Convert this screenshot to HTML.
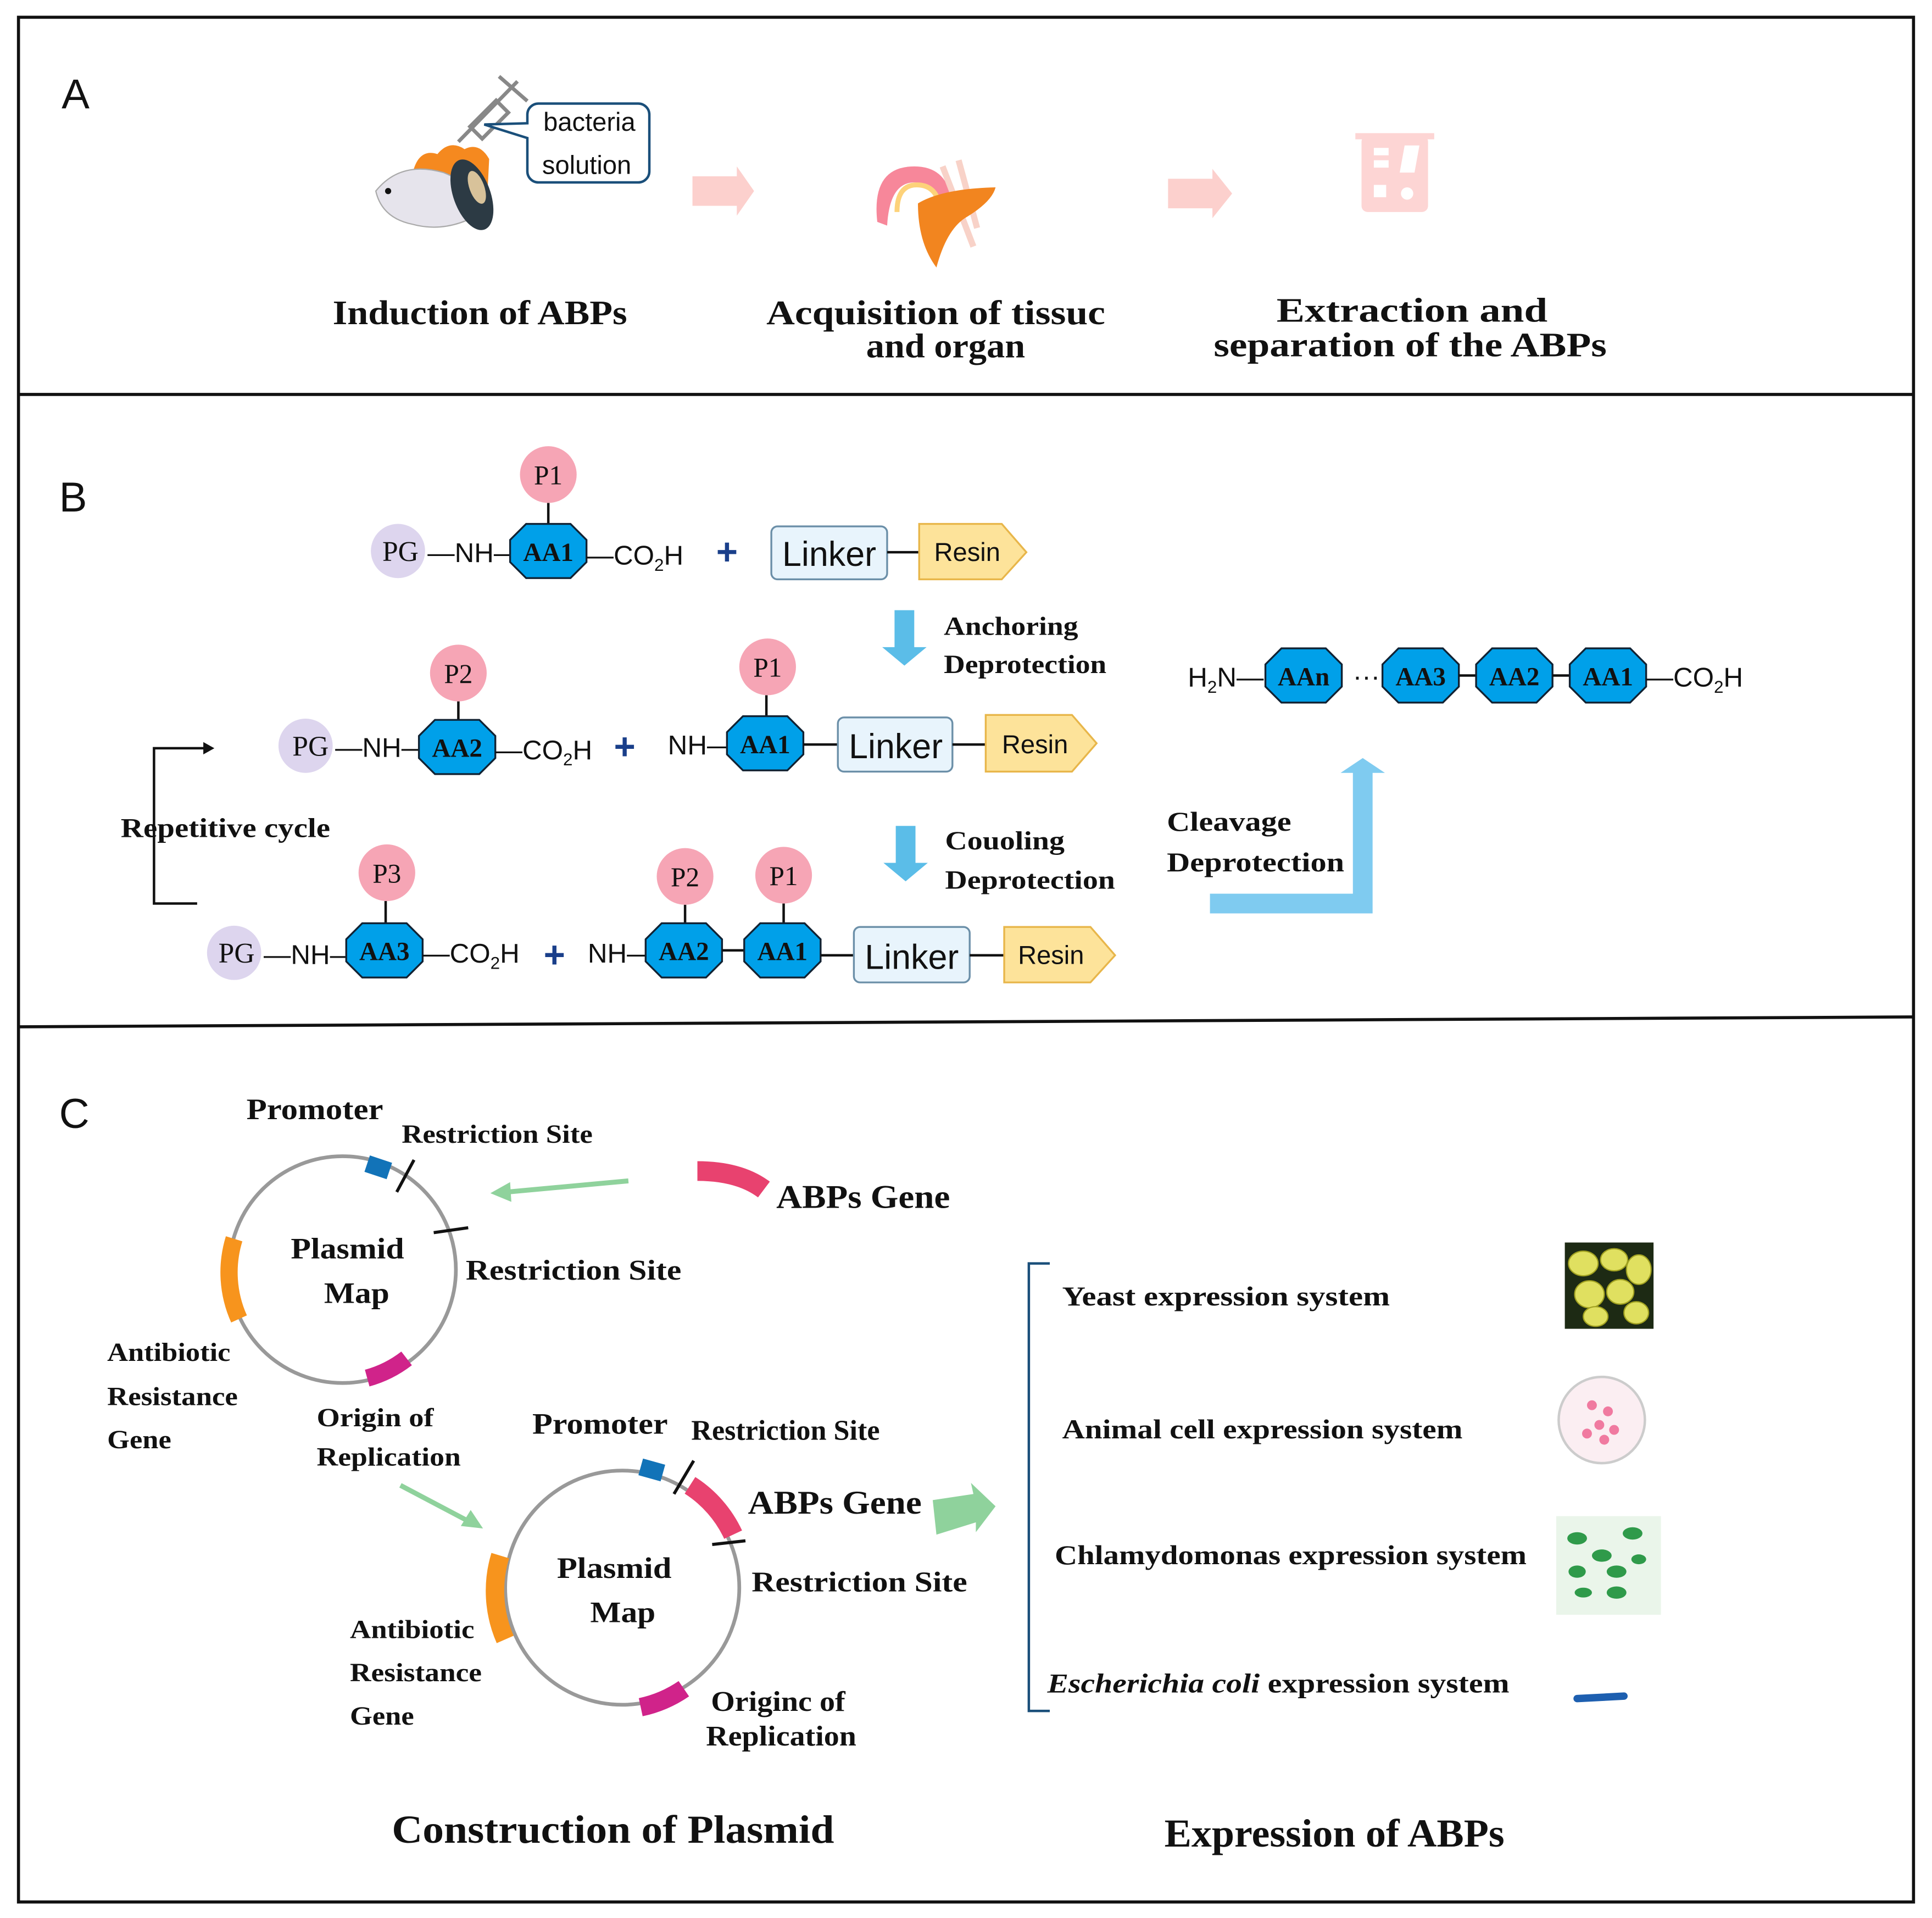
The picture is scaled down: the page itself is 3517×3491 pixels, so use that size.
<!DOCTYPE html>
<html><head><meta charset="utf-8"><style>
html,body{margin:0;padding:0;background:#fff}
svg{display:block}
.s{font-family:"Liberation Serif",serif;font-weight:bold;fill:#111}
.a{font-family:"Liberation Sans",sans-serif;fill:#111}
</style></head><body>
<svg width="3517" height="3491" viewBox="0 0 1568 1556" preserveAspectRatio="none" xmlns="http://www.w3.org/2000/svg">
<defs>
<g id="oct"><polygon points="-18,-22 18,-22 31,-9 31,9 18,22 -18,22 -31,9 -31,-9" fill="#00a0e9" stroke="#123" stroke-width="1.5"/></g>
</defs>
<rect x="15" y="14" width="1538" height="1529" fill="none" stroke="#111" stroke-width="2.5"/>
<line x1="15" y1="320" x2="1553" y2="320" stroke="#111" stroke-width="2.5"/>
<line x1="15" y1="833" x2="1553" y2="825" stroke="#111" stroke-width="2.5"/>

<!-- Panel A -->
<text x="50" y="88" class="a" font-size="34">A</text>
<g stroke="#888" stroke-width="3" fill="none">
<line x1="372" y1="115" x2="420" y2="66"/>
<rect x="390" y="82" width="14" height="30" transform="rotate(45 397 97)"/>
<line x1="405" y1="62" x2="428" y2="82"/>
</g>
<path d="M440,84 h78 a9,9 0 0 1 9,9 v46 a9,9 0 0 1 -9,9 h-81 a9,9 0 0 1 -9,-9 v-27 l-35,-11 l35,-1 v-7 a9,9 0 0 1 9,-9z" fill="#fff" stroke="#1a4f7a" stroke-width="2"/>
<text x="441" y="106" class="a" font-size="21">bacteria</text>
<text x="440" y="141" class="a" font-size="21">solution</text>
<path d="M335,140 q5,-20 20,-15 q10,-12 22,-4 q12,-6 20,8 l-2,40 l-60,-10z" fill="#f5891f"/>
<path d="M305,155 q20,-25 55,-15 q25,10 35,30 q-30,20 -60,12 q-25,-5 -30,-27z" fill="#e6e4ec" stroke="#aaa"/>
<circle cx="315" cy="155" r="2.5" fill="#111"/>
<ellipse cx="383" cy="158" rx="15" ry="30" fill="#2c3a44" transform="rotate(-20 383 158)"/>
<ellipse cx="387" cy="152" rx="6" ry="14" fill="#d8c29a" transform="rotate(-20 387 152)"/>
<polygon points="562,143 598,143 598,135 612,155 598,175 598,167 562,167" fill="#fcd0cd"/>
<polygon points="948,145 984,145 984,137 1000,157 984,177 984,169 948,169" fill="#fcd0cd"/>
<path d="M712,180 q-5,-45 30,-45 q25,0 30,25 l-12,8 q-3,-20 -18,-20 q-20,0 -22,35z" fill="#f7879a"/>
<path d="M728,172 q0,-22 16,-22 q14,0 18,14" fill="none" stroke="#fdd27a" stroke-width="4"/>
<path d="M765,135 l25,65 M778,130 l15,55" stroke="#f8d2c8" stroke-width="5"/>
<path d="M745,165 q20,-12 63,-13 q-3,12 -25,25 q-15,10 -23,40 q-15,-20 -15,-52z" fill="#f2851f"/>
<rect x="1105" y="110" width="54" height="62" rx="5" fill="#fdd5d4"/>
<rect x="1100" y="108" width="64" height="5" fill="#fdd5d4"/>
<rect x="1115" y="120" width="12" height="6" fill="#fff"/><rect x="1115" y="130" width="12" height="6" fill="#fff"/>
<polygon points="1140,118 1152,118 1148,140 1136,140" fill="#fff"/>
<rect x="1115" y="150" width="10" height="10" fill="#fff"/><circle cx="1142" cy="157" r="5" fill="#fff"/>
<text x="270" y="263" class="s" font-size="28" textLength="239" lengthAdjust="spacingAndGlyphs">Induction of ABPs</text>
<text x="622" y="263" class="s" font-size="28" textLength="275" lengthAdjust="spacingAndGlyphs">Acquisition of tissuc</text>
<text x="703" y="290" class="s" font-size="28" textLength="129" lengthAdjust="spacingAndGlyphs">and organ</text>
<text x="1036" y="261" class="s" font-size="28" textLength="220" lengthAdjust="spacingAndGlyphs">Extraction and</text>
<text x="985" y="289" class="s" font-size="28" textLength="319" lengthAdjust="spacingAndGlyphs">separation of the ABPs</text>

<!-- Panel B -->
<text x="48" y="415" class="a" font-size="34">B</text>
<g>
<circle cx="323" cy="447" r="22" fill="#ddd5ee"/><text x="325" y="455" text-anchor="middle" style="font-family:'Liberation Serif',serif;font-size:23px;fill:#111">PG</text>
<text x="347" y="456" class="a" font-size="22">—NH—</text>
<line x1="445" y1="408" x2="445" y2="425" stroke="#111" stroke-width="2"/>
<circle cx="445" cy="385" r="23" fill="#f6a5b5"/><text x="445" y="393" style="font-family:'Liberation Serif',serif;font-size:22px;fill:#111" text-anchor="middle">P1</text>
<use href="#oct" x="445" y="447"/><text x="445" y="455" class="s" font-size="21" text-anchor="middle">AA1</text>
<text x="476" y="458" class="a" font-size="22">—CO<tspan font-size="14" dy="5">2</tspan><tspan dy="-5">H</tspan></text>
<text x="590" y="458" font-family="Liberation Sans" font-size="30" style="fill:#1a3f8a" text-anchor="middle" font-weight="bold">+</text>
<rect x="626" y="427" width="94" height="43" rx="5" fill="#e8f4fc" stroke="#6b8fa8" stroke-width="1.5"/>
<text x="673" y="459" class="a" font-size="28" text-anchor="middle">Linker</text>
<line x1="720" y1="448" x2="746" y2="448" stroke="#111" stroke-width="2"/>
<polygon points="746,425 813,425 833,448 813,470 746,470" fill="#fde39a" stroke="#e8b64a" stroke-width="1.5"/>
<text x="785" y="455" class="a" font-size="21" text-anchor="middle">Resin</text>
<polygon points="726,495 742,495 742,525 752,525 734,540 716,525 726,525" fill="#5bbde8"/>
<text x="766" y="515" class="s" font-size="21" textLength="109" lengthAdjust="spacingAndGlyphs">Anchoring</text>
<text x="766" y="546" class="s" font-size="21" textLength="132" lengthAdjust="spacingAndGlyphs">Deprotection</text>
<circle cx="248" cy="605" r="22" fill="#ddd5ee"/><text x="252" y="613" text-anchor="middle" style="font-family:'Liberation Serif',serif;font-size:23px;fill:#111">PG</text>
<text x="272" y="614" class="a" font-size="22">—NH—</text>
<line x1="372" y1="569" x2="372" y2="585" stroke="#111" stroke-width="2"/>
<circle cx="372" cy="546" r="23" fill="#f6a5b5"/><text x="372" y="554" style="font-family:'Liberation Serif',serif;font-size:22px;fill:#111" text-anchor="middle">P2</text>
<use href="#oct" x="371" y="606"/><text x="371" y="614" class="s" font-size="21" text-anchor="middle">AA2</text>
<text x="402" y="616" class="a" font-size="22">—CO<tspan font-size="14" dy="5">2</tspan><tspan dy="-5">H</tspan></text>
<text x="507" y="616" style="fill:#1a3f8a" font-family="Liberation Sans" font-size="30" text-anchor="middle" font-weight="bold">+</text>
<text x="542" y="612" class="a" font-size="22">NH—</text>
<line x1="622" y1="564" x2="622" y2="582" stroke="#111" stroke-width="2"/>
<circle cx="623" cy="541" r="23" fill="#f6a5b5"/><text x="623" y="549" style="font-family:'Liberation Serif',serif;font-size:22px;fill:#111" text-anchor="middle">P1</text>
<use href="#oct" x="621" y="603"/><text x="621" y="611" class="s" font-size="21" text-anchor="middle">AA1</text>
<line x1="652" y1="604" x2="680" y2="604" stroke="#111" stroke-width="2"/>
<rect x="680" y="582" width="93" height="44" rx="5" fill="#e8f4fc" stroke="#6b8fa8" stroke-width="1.5"/>
<text x="727" y="615" class="a" font-size="28" text-anchor="middle">Linker</text>
<line x1="773" y1="604" x2="800" y2="604" stroke="#111" stroke-width="2"/>
<polygon points="800,580 870,580 890,603 870,626 800,626" fill="#fde39a" stroke="#e8b64a" stroke-width="1.5"/>
<text x="840" y="611" class="a" font-size="21" text-anchor="middle">Resin</text>
<polygon points="727,670 743,670 743,700 753,700 735,715 717,700 727,700" fill="#5bbde8"/>
<text x="767" y="689" class="s" font-size="21" textLength="97" lengthAdjust="spacingAndGlyphs">Couoling</text>
<text x="767" y="721" class="s" font-size="21" textLength="138" lengthAdjust="spacingAndGlyphs">Deprotection</text>
<path d="M160,733 H125 V607 H168" fill="none" stroke="#111" stroke-width="2"/>
<polygon points="174,607 165,602 165,612" fill="#111"/>
<text x="98" y="679" class="s" font-size="22" textLength="170" lengthAdjust="spacingAndGlyphs">Repetitive cycle</text>
<circle cx="190" cy="773" r="22" fill="#ddd5ee"/><text x="192" y="781" text-anchor="middle" style="font-family:'Liberation Serif',serif;font-size:23px;fill:#111">PG</text>
<text x="214" y="782" class="a" font-size="22">—NH—</text>
<line x1="313" y1="731" x2="313" y2="750" stroke="#111" stroke-width="2"/>
<circle cx="314" cy="708" r="23" fill="#f6a5b5"/><text x="314" y="716" style="font-family:'Liberation Serif',serif;font-size:22px;fill:#111" text-anchor="middle">P3</text>
<use href="#oct" x="312" y="771"/><text x="312" y="779" class="s" font-size="21" text-anchor="middle">AA3</text>
<text x="343" y="781" class="a" font-size="22">—CO<tspan font-size="14" dy="5">2</tspan><tspan dy="-5">H</tspan></text>
<text x="450" y="785" style="fill:#1a3f8a" font-family="Liberation Sans" font-size="30" text-anchor="middle" font-weight="bold">+</text>
<text x="477" y="781" class="a" font-size="22">NH—</text>
<line x1="556" y1="734" x2="556" y2="750" stroke="#111" stroke-width="2"/>
<circle cx="556" cy="711" r="23" fill="#f6a5b5"/><text x="556" y="719" style="font-family:'Liberation Serif',serif;font-size:22px;fill:#111" text-anchor="middle">P2</text>
<use href="#oct" x="555" y="771"/><text x="555" y="779" class="s" font-size="21" text-anchor="middle">AA2</text>
<line x1="586" y1="771" x2="604" y2="771" stroke="#111" stroke-width="2"/>
<line x1="636" y1="733" x2="636" y2="750" stroke="#111" stroke-width="2"/>
<circle cx="636" cy="710" r="23" fill="#f6a5b5"/><text x="636" y="718" style="font-family:'Liberation Serif',serif;font-size:22px;fill:#111" text-anchor="middle">P1</text>
<use href="#oct" x="635" y="771"/><text x="635" y="779" class="s" font-size="21" text-anchor="middle">AA1</text>
<line x1="666" y1="775" x2="693" y2="775" stroke="#111" stroke-width="2"/>
<rect x="693" y="752" width="94" height="45" rx="5" fill="#e8f4fc" stroke="#6b8fa8" stroke-width="1.5"/>
<text x="740" y="786" class="a" font-size="28" text-anchor="middle">Linker</text>
<line x1="787" y1="775" x2="815" y2="775" stroke="#111" stroke-width="2"/>
<polygon points="815,752 885,752 905,775 885,797 815,797" fill="#fde39a" stroke="#e8b64a" stroke-width="1.5"/>
<text x="853" y="782" class="a" font-size="21" text-anchor="middle">Resin</text>
<text x="964" y="557" class="a" font-size="22">H<tspan font-size="14" dy="5">2</tspan><tspan dy="-5">N—</tspan></text>
<use href="#oct" x="1058" y="548"/><text x="1058" y="556" class="s" font-size="21" text-anchor="middle">AAn</text>
<text x="1098" y="556" class="a" font-size="22">···</text>
<use href="#oct" x="1153" y="548"/><text x="1153" y="556" class="s" font-size="21" text-anchor="middle">AA3</text>
<line x1="1184" y1="548" x2="1198" y2="548" stroke="#111" stroke-width="2"/>
<use href="#oct" x="1229" y="548"/><text x="1229" y="556" class="s" font-size="21" text-anchor="middle">AA2</text>
<line x1="1260" y1="548" x2="1274" y2="548" stroke="#111" stroke-width="2"/>
<use href="#oct" x="1305" y="548"/><text x="1305" y="556" class="s" font-size="21" text-anchor="middle">AA1</text>
<text x="1336" y="557" class="a" font-size="22">—CO<tspan font-size="14" dy="5">2</tspan><tspan dy="-5">H</tspan></text>
<polygon points="982,725 1098,725 1098,627 1088,627 1106,615 1124,627 1114,627 1114,741 982,741" fill="#7fcbf0"/>
<text x="947" y="674" class="s" font-size="22" textLength="101" lengthAdjust="spacingAndGlyphs">Cleavage</text>
<text x="947" y="707" class="s" font-size="22" textLength="144" lengthAdjust="spacingAndGlyphs">Deprotection</text>
</g>

<!-- Panel C -->
<text x="48" y="915" class="a" font-size="34">C</text>
<circle cx="278" cy="1030" r="92" fill="none" stroke="#999" stroke-width="3"/>
<path d="M190,1005 A92,92 0 0 0 194,1070" fill="none" stroke="#f7941d" stroke-width="14"/>
<path d="M298,1118 A92,92 0 0 0 330,1102" fill="none" stroke="#d0238a" stroke-width="14"/>
<path d="M298,944 L316,950" stroke="#1273b8" stroke-width="14"/>
<line x1="322" y1="967" x2="336" y2="941" stroke="#111" stroke-width="2.5"/>
<line x1="352" y1="1000" x2="380" y2="996" stroke="#111" stroke-width="2.5"/>
<text x="200" y="908" class="s" font-size="24" textLength="111" lengthAdjust="spacingAndGlyphs">Promoter</text>
<text x="326" y="927" class="s" font-size="21" textLength="155" lengthAdjust="spacingAndGlyphs">Restriction Site</text>
<text x="236" y="1021" class="s" font-size="24" textLength="92" lengthAdjust="spacingAndGlyphs">Plasmid</text>
<text x="263" y="1057" class="s" font-size="24" textLength="53" lengthAdjust="spacingAndGlyphs">Map</text>
<text x="378" y="1038" class="s" font-size="23" textLength="175" lengthAdjust="spacingAndGlyphs">Restriction Site</text>
<text x="87" y="1104" class="s" font-size="21" textLength="100" lengthAdjust="spacingAndGlyphs">Antibiotic</text>
<text x="87" y="1140" class="s" font-size="21" textLength="106" lengthAdjust="spacingAndGlyphs">Resistance</text>
<text x="87" y="1175" class="s" font-size="21" textLength="52" lengthAdjust="spacingAndGlyphs">Gene</text>
<text x="257" y="1157" class="s" font-size="21" textLength="95" lengthAdjust="spacingAndGlyphs">Origin of</text>
<text x="257" y="1189" class="s" font-size="21" textLength="117" lengthAdjust="spacingAndGlyphs">Replication</text>
<line x1="510" y1="958" x2="412" y2="967" stroke="#8fd29c" stroke-width="4"/>
<polygon points="398,968 414,959 415,975" fill="#8fd29c"/>
<path d="M566,950 Q600,950 620,965" fill="none" stroke="#e8426f" stroke-width="16"/>
<text x="630" y="980" class="s" font-size="27" textLength="141" lengthAdjust="spacingAndGlyphs">ABPs Gene</text>
<circle cx="505" cy="1288" r="95" fill="none" stroke="#999" stroke-width="3"/>
<path d="M406,1262 A98,98 0 0 0 410,1330" fill="none" stroke="#f7941d" stroke-width="15"/>
<path d="M520,1385 A98,98 0 0 0 555,1370" fill="none" stroke="#d0238a" stroke-width="15"/>
<path d="M520,1190 L538,1195" stroke="#1273b8" stroke-width="14"/>
<path d="M560,1205 A95,95 0 0 1 595,1245" fill="none" stroke="#e8426f" stroke-width="16"/>
<line x1="547" y1="1212" x2="563" y2="1185" stroke="#111" stroke-width="2.5"/>
<line x1="578" y1="1253" x2="605" y2="1250" stroke="#111" stroke-width="2.5"/>
<text x="432" y="1163" class="s" font-size="24" textLength="110" lengthAdjust="spacingAndGlyphs">Promoter</text>
<text x="561" y="1168" class="s" font-size="23" textLength="153" lengthAdjust="spacingAndGlyphs">Restriction Site</text>
<text x="607" y="1228" class="s" font-size="27" textLength="141" lengthAdjust="spacingAndGlyphs">ABPs Gene</text>
<text x="452" y="1280" class="s" font-size="24" textLength="93" lengthAdjust="spacingAndGlyphs">Plasmid</text>
<text x="479" y="1316" class="s" font-size="24" textLength="53" lengthAdjust="spacingAndGlyphs">Map</text>
<text x="610" y="1291" class="s" font-size="23" textLength="175" lengthAdjust="spacingAndGlyphs">Restriction Site</text>
<text x="284" y="1329" class="s" font-size="21" textLength="101" lengthAdjust="spacingAndGlyphs">Antibiotic</text>
<text x="284" y="1364" class="s" font-size="21" textLength="107" lengthAdjust="spacingAndGlyphs">Resistance</text>
<text x="284" y="1399" class="s" font-size="21" textLength="52" lengthAdjust="spacingAndGlyphs">Gene</text>
<text x="577" y="1388" class="s" font-size="23" textLength="109" lengthAdjust="spacingAndGlyphs">Originc of</text>
<text x="573" y="1416" class="s" font-size="23" textLength="122" lengthAdjust="spacingAndGlyphs">Replication</text>
<line x1="325" y1="1205" x2="380" y2="1234" stroke="#8fd29c" stroke-width="4"/>
<polygon points="392,1240 374,1238 382,1225" fill="#8fd29c"/>
<polygon points="757,1217 790,1212 788,1203 808,1222 792,1243 792,1235 760,1245" fill="#8fd29c"/>
<path d="M852,1025 H835 V1388 H852" fill="none" stroke="#1a4f7a" stroke-width="2"/>
<text x="862" y="1059" class="s" font-size="22" textLength="266" lengthAdjust="spacingAndGlyphs">Yeast expression system</text>
<text x="862" y="1167" class="s" font-size="22" textLength="325" lengthAdjust="spacingAndGlyphs">Animal cell expression system</text>
<text x="856" y="1269" class="s" font-size="22" textLength="383" lengthAdjust="spacingAndGlyphs">Chlamydomonas expression system</text>
<text x="850" y="1373" class="s" font-size="22" textLength="375" lengthAdjust="spacingAndGlyphs"><tspan font-style="italic">Escherichia coli</tspan> expression system</text>
<rect x="1270" y="1008" width="72" height="70" fill="#1d2a14"/>
<g fill="#e0e060" stroke="#a0a020">
<ellipse cx="1285" cy="1025" rx="12" ry="10"/><ellipse cx="1310" cy="1022" rx="11" ry="9"/><ellipse cx="1330" cy="1030" rx="10" ry="12"/>
<ellipse cx="1290" cy="1050" rx="12" ry="11"/><ellipse cx="1315" cy="1048" rx="11" ry="10"/><ellipse cx="1328" cy="1065" rx="10" ry="9"/><ellipse cx="1295" cy="1068" rx="10" ry="8"/>
</g>
<circle cx="1300" cy="1152" r="35" fill="#fbeef2" stroke="#ccc" stroke-width="2"/>
<g fill="#f07aa0"><circle cx="1292" cy="1140" r="4"/><circle cx="1305" cy="1145" r="4"/><circle cx="1298" cy="1156" r="4"/><circle cx="1310" cy="1160" r="4"/><circle cx="1288" cy="1163" r="4"/><circle cx="1302" cy="1168" r="4"/></g>
<rect x="1263" y="1230" width="85" height="80" fill="#eaf5ea"/>
<g fill="#2f9a4a"><ellipse cx="1280" cy="1248" rx="8" ry="5"/><ellipse cx="1325" cy="1244" rx="8" ry="5"/><ellipse cx="1300" cy="1262" rx="8" ry="5"/><ellipse cx="1280" cy="1275" rx="7" ry="5"/><ellipse cx="1312" cy="1275" rx="8" ry="5"/><ellipse cx="1330" cy="1265" rx="6" ry="4"/><ellipse cx="1285" cy="1292" rx="7" ry="4"/><ellipse cx="1312" cy="1292" rx="8" ry="5"/></g>
<line x1="1280" y1="1378" x2="1318" y2="1376" stroke="#1d5fb0" stroke-width="6" stroke-linecap="round"/>
<text x="318" y="1495" class="s" font-size="32" textLength="359" lengthAdjust="spacingAndGlyphs">Construction of Plasmid</text>
<text x="945" y="1498" class="s" font-size="32" textLength="276" lengthAdjust="spacingAndGlyphs">Expression of ABPs</text>
</svg>
</body></html>
